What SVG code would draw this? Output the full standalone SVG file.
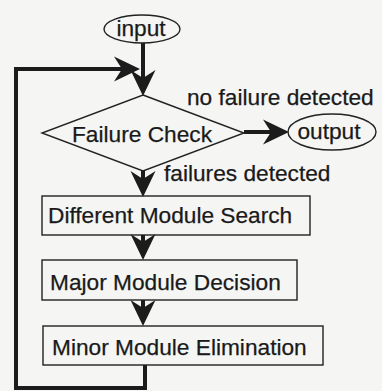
<svg xmlns="http://www.w3.org/2000/svg" width="382" height="391" viewBox="0 0 382 391">
<style>
.bg{fill:#f5f5f4}
.shape{fill:none;stroke:#222;stroke-width:1.4}
.conn{fill:none;stroke:#1c1c1c;stroke-width:4;stroke-linejoin:miter}
text{font-family:"Liberation Sans",Arial,sans-serif;font-size:22.7px;fill:#1a1a1a;stroke:#1a1a1a;stroke-width:0.25}
</style>
<defs>
<marker id="ah" markerUnits="userSpaceOnUse" viewBox="-18 -14 30 28" refX="0" refY="0" markerWidth="30" markerHeight="28" orient="auto" overflow="visible">
<path d="M10,0 L-16,-12.5 L-8,0 L-16,12.5 Z" fill="#1c1c1c"/>
</marker>
</defs>
<rect class="bg" x="0" y="0" width="382" height="391"/>
<g id="connectors">
<path class="conn" d="M143,43 V86" marker-end="url(#ah)"/>
<path class="conn" d="M145,365 V388 H16 V69 H130" marker-end="url(#ah)"/>
<path class="conn" d="M244,132 H279" marker-end="url(#ah)"/>
<path class="conn" d="M143,171 V187" marker-end="url(#ah)"/>
<path class="conn" d="M143,235 V250" marker-end="url(#ah)"/>
<path class="conn" d="M143,300 V316" marker-end="url(#ah)"/>
</g>
<g id="input">
<ellipse class="shape" cx="142" cy="29" rx="38" ry="14"/>
<text x="141" y="36" text-anchor="middle">input</text>
</g>
<g id="failure-check">
<polygon class="shape" points="143,95 244,133 143,171 42,133"/>
<text x="142" y="142" text-anchor="middle">Failure Check</text>
</g>
<g id="output">
<ellipse class="shape" cx="332" cy="132" rx="44" ry="18"/>
<text x="329" y="139" text-anchor="middle">output</text>
</g>
<g id="labels">
<text x="187" y="105">no failure detected</text>
<text x="164" y="181">failures detected</text>
</g>
<g id="different-module-search">
<rect class="shape" x="42" y="196" width="268" height="39"/>
<text x="48" y="223">Different Module Search</text>
</g>
<g id="major-module-decision">
<rect class="shape" x="42" y="260" width="255" height="40"/>
<text x="50" y="290">Major Module Decision</text>
</g>
<g id="minor-module-elimination">
<rect class="shape" x="43" y="326" width="280" height="39"/>
<text x="52" y="355">Minor Module Elimination</text>
</g>
</svg>
